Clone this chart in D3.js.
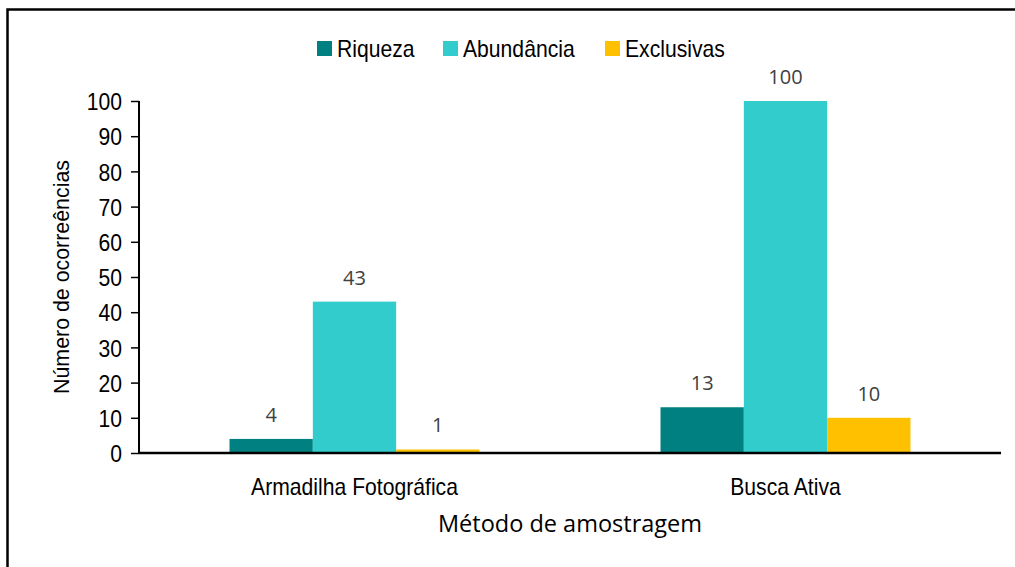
<!DOCTYPE html>
<html><head><meta charset="utf-8">
<script src="https://cdn.jsdelivr.net/npm/d3@7"></script>
<style>body{margin:0;background:#fff}svg{display:block}</style>
</head><body><svg id="c" width="1015" height="567"></svg>
<script>
const categories = ["Armadilha Fotográfica", "Busca Ativa"];
const seriesNames = ["Riqueza", "Abundância", "Exclusivas"];
const riqueza = [4, 13];
const abundancia = [43, 100];
const exclusivas = [1, 10];
const yTicks = [0,10,20,30,40,50,60,70,80,90,100];
const colors = ["#008080", "#33CCCC", "#FFC000"];

const series = [riqueza, abundancia, exclusivas];
const svg = d3.select("#c");
const arial = "Liberation Sans";
const cal = "Open Sans";
const SX = 0.92;

// frame
svg.append("path").attr("d","M7.5,567 V9.5 H1015").attr("fill","none").attr("stroke","#000").attr("stroke-width",2.5);

const x0 = 139, x1 = 1001, yb = 453, yt = 101;
const x = d3.scaleBand().domain(categories).range([x0, x1]).paddingInner(0.42).paddingOuter(0.21);
const xs = d3.scaleBand().domain(seriesNames).range([0, x.bandwidth()]);
const y = d3.scaleLinear().domain([0,100]).range([yb, yt]);

const g = svg.append("g");
seriesNames.forEach((s, si) => {
  categories.forEach((c, ci) => {
    const v = series[si][ci];
    g.append("rect").attr("x", x(c)+xs(s)).attr("width", xs.bandwidth())
      .attr("y", y(v)).attr("height", yb - y(v)).attr("fill", colors[si]);
    g.append("text").attr("x", x(c)+xs(s)+xs.bandwidth()/2).attr("y", y(v)-17)
      .attr("text-anchor","middle").attr("font-family", cal).attr("font-size", 20)
      .attr("fill","#404040").text(v);
  });
});

// y axis
const ya = svg.append("g").attr("transform",`translate(${x0},0)`)
  .call(d3.axisLeft(y).tickValues(yTicks).tickSize(8).tickPadding(0).tickFormat(d3.format("d")));
ya.select(".domain").attr("stroke","#000").attr("stroke-width",2).attr("d",`M-0,${yt}V${yb}`);
ya.selectAll(".tick line").attr("stroke","#000").attr("stroke-width",1.5);
ya.selectAll(".tick text").attr("font-family", arial).attr("font-size", 23).attr("fill","#000")
  .attr("x", -17/SX).attr("dy","0.38em").attr("transform",`scale(${SX},1)`);

// x axis
const xa = svg.append("g").attr("transform",`translate(0,${yb})`)
  .call(d3.axisBottom(x).tickSize(0).tickPadding(0));
xa.select(".domain").attr("stroke","#000").attr("stroke-width",2.5).attr("d",`M${x0},0H${x1}`);
xa.selectAll(".tick text").attr("font-family", arial).attr("font-size", 23).attr("fill","#000")
  .attr("y", 42).attr("dy", null).attr("transform",`scale(${SX},1)`);

// axis titles
svg.append("text").attr("transform","translate(69,277) rotate(-90) scale(0.93,1)").attr("text-anchor","middle")
  .attr("font-family", arial).attr("font-size", 23).attr("fill","#000").text("Número de ocorreências");
svg.append("text").attr("x", 570).attr("y", 532).attr("text-anchor","middle")
  .attr("font-family", cal).attr("font-size", 23.5).attr("fill","#000").text("Método de amostragem");

// legend
const legX = [317, 443, 605];
seriesNames.forEach((s, i) => {
  svg.append("rect").attr("x", legX[i]).attr("y", 41).attr("width", 15).attr("height", 15).attr("fill", colors[i]);
  svg.append("text").attr("transform",`translate(${legX[i]+20},57) scale(${SX},1)`).attr("font-family", arial)
    .attr("font-size", 23).attr("fill","#000").text(s);
});
</script></body></html>
